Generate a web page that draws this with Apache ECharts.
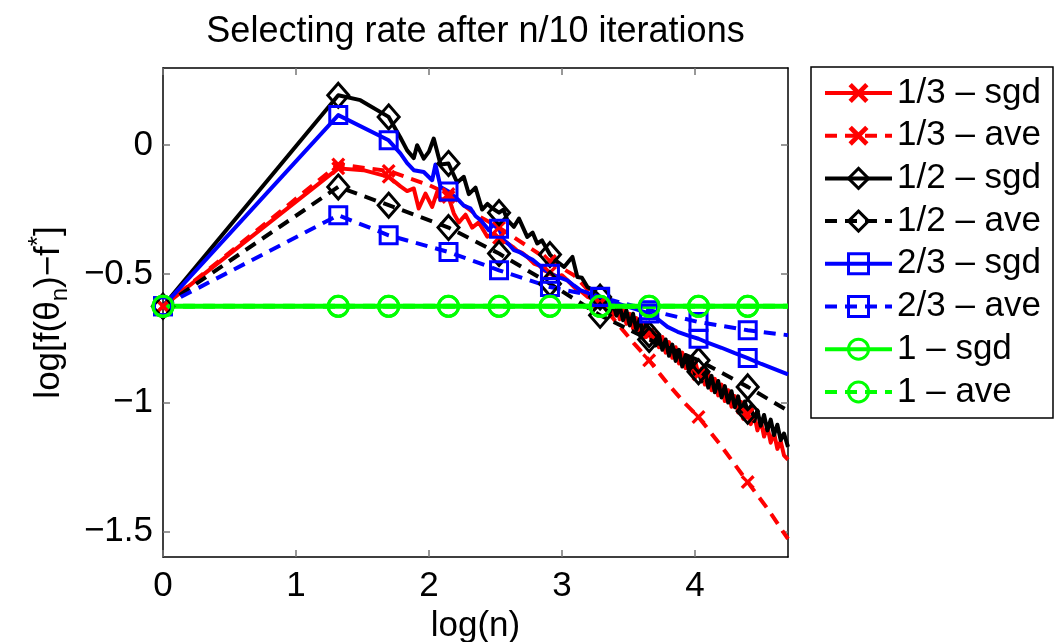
<!DOCTYPE html>
<html><head><meta charset="utf-8">
<script src="https://cdn.jsdelivr.net/npm/echarts@6/dist/echarts.min.js"></script>
<style>html,body{margin:0;padding:0;background:#fff}#c{width:1055px;height:642px}</style>
</head><body><div id="c"></div>
<script>
const TITLE = 'Selecting rate after n/10 iterations';
const X_NAME = 'log(n)';
const X_TICKS = [0, 1, 2, 3, 4];
const Y_TICKS = [-1.5, -1, -0.5, 0];
const SERIES_NAMES = ['1/3 \u2013 sgd', '1/3 \u2013 ave', '1/2 \u2013 sgd', '1/2 \u2013 ave', '2/3 \u2013 sgd', '2/3 \u2013 ave', '1 \u2013 sgd', '1 \u2013 ave'];
// x positions carrying a marker
const MARK_X = [0, 1.318, 1.697, 2.147, 2.527, 2.91, 3.287, 3.656, 4.027, 4.397];

// shared dense x grid of the late noisy part (sgd 1/3 and 1/2)
const TAIL_X = [3.287,3.31,3.335,3.36,3.385,3.41,3.435,3.46,3.485,3.51,3.535,3.56,3.585,3.61,3.635,3.656,3.68,3.705,3.73,3.755,3.78,3.805,3.83,3.855,3.88,3.905,3.93,3.955,3.98,4.005,4.027,4.05,4.075,4.10,4.125,4.15,4.175,4.20,4.225,4.25,4.275,4.30,4.325,4.35,4.375,4.397,4.42,4.445,4.47,4.495,4.52,4.545,4.57,4.595,4.62,4.645,4.67,4.70];

// 1/3 - sgd
const R_SGD_X = [0,1.318,1.507,1.697,1.786,1.836,1.886,1.923,1.974,2.024,2.062,2.087,2.147,2.187,2.225,2.275,2.325,2.375,2.438,2.48,2.527,2.589,2.63,2.664,2.70,2.739,2.79,2.83,2.865,2.91,2.966,3.00,3.041,3.08,3.116,3.15,3.192,3.24].concat(TAIL_X);
const R_SGD_Y = [-0.626,-0.090,-0.097,-0.123,-0.160,-0.178,-0.168,-0.246,-0.188,-0.240,-0.181,-0.214,-0.201,-0.265,-0.300,-0.270,-0.320,-0.300,-0.355,-0.345,-0.360,-0.380,-0.395,-0.410,-0.418,-0.434,-0.460,-0.468,-0.486,-0.495,-0.512,-0.505,-0.525,-0.545,-0.564,-0.570,-0.589,-0.598,
 -0.615,-0.598,-0.640,-0.612,-0.660,-0.625,-0.676,-0.640,-0.694,-0.655,-0.712,-0.672,-0.728,-0.690,-0.745,-0.730,-0.764,-0.728,-0.785,-0.745,
 -0.806,-0.765,-0.826,-0.785,-0.848,-0.806,-0.866,-0.826,-0.888,-0.846,-0.890,-0.868,-0.930,-0.888,-0.952,-0.908,-0.972,-0.930,-0.994,-0.952,
 -1.016,-0.975,-1.038,-0.998,-1.062,-1.045,-1.084,-1.045,-1.108,-1.068,-1.132,-1.092,-1.156,-1.118,-1.180,-1.150,-1.205,-1.222];

// 1/3 - ave
const R_AVE_X = [0,1.318,1.697,2.0,2.147,2.363,2.527,2.91,3.09,3.287,3.543,3.656,3.794,3.92,4.027,4.2,4.397,4.55,4.7];
const R_AVE_Y = [-0.626,-0.075,-0.100,-0.155,-0.190,-0.272,-0.320,-0.450,-0.505,-0.612,-0.771,-0.836,-0.926,-1.000,-1.056,-1.170,-1.309,-1.415,-1.530];

// 1/2 - sgd
const K_SGD_X = [0,1.318,1.484,1.697,1.785,1.836,1.886,1.911,1.961,2.0,2.036,2.087,2.147,2.212,2.262,2.30,2.35,2.40,2.44,2.476,2.527,2.56,2.589,2.639,2.677,2.739,2.78,2.814,2.85,2.91,2.966,3.016,3.05,3.079,3.116,3.15,3.192,3.24].concat(TAIL_X);
const K_SGD_Y = [-0.626,0.194,0.175,0.110,0.030,-0.020,-0.050,0.000,-0.052,-0.025,0.026,-0.075,-0.071,-0.145,-0.123,-0.190,-0.165,-0.250,-0.228,-0.245,-0.262,-0.250,-0.290,-0.317,-0.285,-0.356,-0.340,-0.382,-0.370,-0.425,-0.453,-0.473,-0.452,-0.434,-0.512,-0.515,-0.551,-0.565,
 -0.590,-0.625,-0.600,-0.648,-0.615,-0.662,-0.628,-0.680,-0.642,-0.700,-0.655,-0.718,-0.675,-0.735,-0.690,-0.735,-0.728,-0.778,-0.738,-0.795,
 -0.755,-0.818,-0.775,-0.838,-0.795,-0.860,-0.815,-0.878,-0.835,-0.900,-0.880,-0.918,-0.876,-0.942,-0.896,-0.960,-0.916,-0.980,-0.936,-1.000,
 -0.956,-1.018,-0.976,-1.036,-0.996,-1.034,-1.014,-1.072,-1.030,-1.090,-1.048,-1.108,-1.066,-1.126,-1.086,-1.146,-1.120,-1.172];

// 1/2 - ave
const K_AVE_X = [0,1.318,1.697,2.147,2.527,2.91,3.287,3.656,4.027,4.397,4.7];
const K_AVE_Y = [-0.626,-0.162,-0.233,-0.320,-0.421,-0.538,-0.661,-0.755,-0.836,-0.939,-1.032];

// 2/3 - sgd
const U_SGD_X = [0,1.318,1.697,1.785,1.836,1.886,1.961,2.024,2.049,2.087,2.147,2.225,2.262,2.312,2.35,2.388,2.45,2.48,2.527,2.564,2.60,2.639,2.68,2.739,2.78,2.814,2.86,2.91,2.96,3.041,3.09,3.141,3.20,3.287,3.35,3.417,3.48,3.543,3.60,3.656,3.72,3.794,3.87,3.95,4.027,4.10,4.20,4.30,4.397,4.50,4.60,4.70];
const U_SGD_Y = [-0.626,0.117,0.019,-0.032,-0.070,-0.097,-0.104,-0.136,-0.075,-0.162,-0.180,-0.214,-0.235,-0.245,-0.275,-0.291,-0.330,-0.310,-0.325,-0.369,-0.385,-0.408,-0.415,-0.434,-0.445,-0.460,-0.480,-0.499,-0.510,-0.525,-0.545,-0.564,-0.575,-0.589,-0.605,-0.615,-0.625,-0.635,-0.645,-0.654,-0.675,-0.706,-0.725,-0.740,-0.752,-0.768,-0.787,-0.808,-0.827,-0.850,-0.870,-0.890];

// 2/3 - ave
const U_AVE_X = [0,1.318,1.697,2.147,2.527,2.91,3.287,3.656,4.027,4.397,4.7];
const U_AVE_Y = [-0.626,-0.272,-0.350,-0.415,-0.486,-0.551,-0.590,-0.641,-0.687,-0.719,-0.738];

// 1 - sgd
const G_SGD_X = [0,1.318,1.697,2.147,2.527,2.91,3.287,3.656,4.027,4.397,4.7];
const G_SGD_Y = [-0.626,-0.626,-0.626,-0.626,-0.626,-0.626,-0.626,-0.626,-0.626,-0.626,-0.626];
// 1 - ave
const G_AVE_X = [0,1.318,1.697,2.147,2.527,2.91,3.287,3.656,4.027,4.397,4.7];
const G_AVE_Y = [-0.626,-0.626,-0.626,-0.626,-0.626,-0.626,-0.626,-0.626,-0.626,-0.626,-0.626];

const FONT = "'Liberation Sans', Arial, Helvetica, sans-serif";
const RED = '#ff0000', BLACK = '#000000', BLUE = '#0000ff', GREEN = '#00ff00';
const CROSS = 'path://M0,2 L2,0 L6,4 L10,0 L12,2 L8,6 L12,10 L10,12 L6,8 L2,12 L0,10 L4,6 Z';
const DASH = [12, 8];

function mk(name, xs, ys, color, dashed, symbol, size, filled, width) {
  const n = Math.min(xs.length, ys.length);
  const data = [];
  for (let i = 0; i < n; i++) {
    if (MARK_X.indexOf(xs[i]) >= 0) data.push([xs[i], ys[i]]);
    else data.push({ value: [xs[i], ys[i]], symbol: 'none' });
  }
  return {
    name, type: 'line', data,
    symbol, symbolSize: size, showSymbol: true, showAllSymbol: true,
    lineStyle: { color, width: width || 4, type: dashed ? DASH : 'solid', cap: 'butt', join: 'round' },
    itemStyle: filled ? { color, borderColor: color, borderWidth: 0 }
                      : { color: 'rgba(255,255,255,0)', borderColor: color, borderWidth: 3 },
    emphasis: { disabled: true },
    animation: false, z: 2
  };
}

const series = [
  mk(SERIES_NAMES[0], R_SGD_X, R_SGD_Y, RED, false, CROSS, 14, true),
  mk(SERIES_NAMES[1], R_AVE_X, R_AVE_Y, RED, true, CROSS, 14, true),
  mk(SERIES_NAMES[2], K_SGD_X, K_SGD_Y, BLACK, false, 'diamond', [21, 24], false),
  mk(SERIES_NAMES[3], K_AVE_X, K_AVE_Y, BLACK, true, 'diamond', [21, 24], false),
  mk(SERIES_NAMES[4], U_SGD_X, U_SGD_Y, BLUE, false, 'rect', 17, false),
  mk(SERIES_NAMES[5], U_AVE_X, U_AVE_Y, BLUE, true, 'rect', 17, false),
  mk(SERIES_NAMES[6], G_SGD_X, G_SGD_Y, GREEN, false, 'circle', 20, false, 5),
  mk(SERIES_NAMES[7], G_AVE_X, G_AVE_Y, GREEN, true, 'circle', 20, false, 5)
];

const fmtY = v => (v < 0 ? '\u2212' + Math.abs(v) : String(v));
const frame = { show: true, onZero: false, lineStyle: { color: '#000', width: 1.5 } };
const tick = vals => ({ show: true, inside: true, length: 7, customValues: vals, lineStyle: { color: '#777', width: 1.5 } });

const option = {
  backgroundColor: '#fff',
  animation: false,
  title: {
    text: TITLE, left: 475.5, top: 14, padding: 0, textAlign: 'center',
    textStyle: { fontFamily: FONT, fontSize: 36, fontWeight: 'normal', color: '#000' }
  },
  grid: { left: 163, right: 267, top: 68, bottom: 85, containLabel: false, outerBoundsMode: 'none' },
  legend: {
    orient: 'vertical', left: 811, top: 67,
    padding: [8, 12, 8, 12],
    itemWidth: 67, itemHeight: 25, itemGap: 6.7,
    borderColor: '#000', borderWidth: 1.5, backgroundColor: '#fff',
    textStyle: { fontFamily: FONT, fontSize: 35, lineHeight: 36, color: '#000' },
    itemStyle: { borderWidth: 3 },
    lineStyle: { width: 4 },
    selectedMode: false,
    data: SERIES_NAMES.map((n, i) => i < 2 ? { name: n, itemStyle: { borderWidth: 0 } } : { name: n })
  },
  xAxis: [
    {
      type: 'value', min: 0, max: 4.7, position: 'bottom',
      name: X_NAME, nameLocation: 'middle', nameGap: 39,
      nameTextStyle: { fontFamily: FONT, fontSize: 35, color: '#000' },
      axisLine: frame, axisTick: tick(X_TICKS),
      axisLabel: { customValues: X_TICKS, fontFamily: FONT, fontSize: 35, color: '#000', margin: 12 },
      splitLine: { show: false }
    },
    {
      type: 'value', min: 0, max: 4.7, position: 'top',
      axisLine: frame, axisTick: tick(X_TICKS),
      axisLabel: { show: false }, splitLine: { show: false }
    }
  ],
  yAxis: [
    {
      type: 'value', min: -1.6, max: 0.3, position: 'left',
      name: 'log[f(\u03b8{sub|n})\u2212f{sup|*}]', nameLocation: 'middle', nameGap: 91,
      nameTextStyle: {
        fontFamily: FONT, fontSize: 35, color: '#000', lineHeight: 46,
        rich: {
          sub: { fontFamily: FONT, fontSize: 24, lineHeight: 24, verticalAlign: 'bottom', color: '#000' },
          sup: { fontFamily: FONT, fontSize: 26, lineHeight: 26, verticalAlign: 'top', color: '#000' }
        }
      },
      axisLine: frame, axisTick: tick(Y_TICKS),
      axisLabel: { customValues: Y_TICKS, formatter: fmtY, fontFamily: FONT, fontSize: 35, color: '#000', margin: 10 },
      splitLine: { show: false }
    },
    {
      type: 'value', min: -1.6, max: 0.3, position: 'right',
      axisLine: frame, axisTick: tick(Y_TICKS),
      axisLabel: { show: false }, splitLine: { show: false }
    }
  ],
  series
};

const chart = echarts.init(document.getElementById('c'), null, { renderer: 'canvas' });
chart.setOption(option);
</script>
</body></html>
